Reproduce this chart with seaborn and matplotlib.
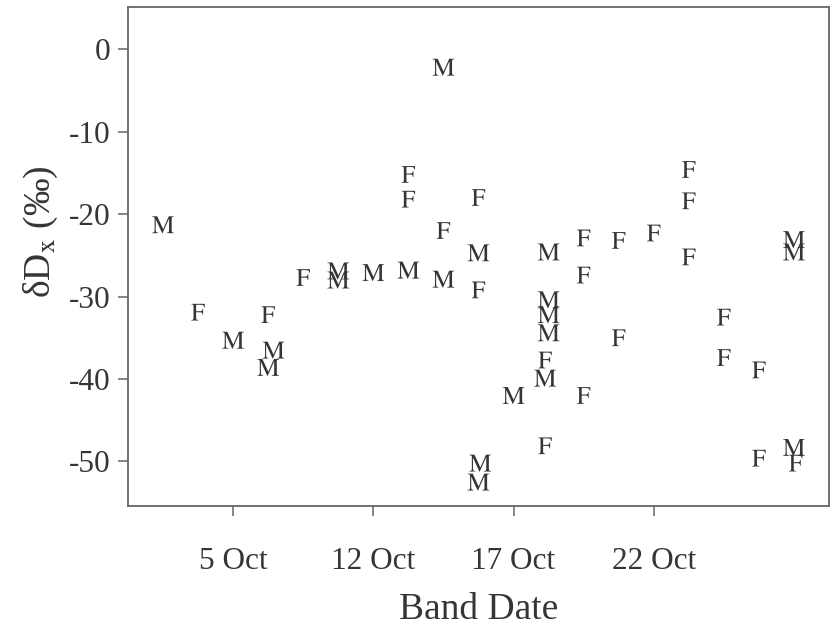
"""Band date vs deltaD_x scatter, birds labelled by sex (M / F)."""
import matplotlib
matplotlib.use("Agg")
import matplotlib.pyplot as plt
import pandas as pd
import seaborn as sns

# band day index (column of the plot) and the deltaD value read per bird
band_day = [1, 2, 3, 4, 4.15, 4, 5, 6, 6, 7,
            8, 8, 8, 9, 9, 9, 10, 10, 10, 10.05, 10,
            11, 12, 12, 12, 12, 11.9, 11.9, 11.9,
            13, 13, 13, 14, 14, 15, 16, 16, 16, 17, 17, 18, 18,
            19, 19, 19, 19.05]
delta_d = [-21.3, -31.9, -35.3, -32.2, -36.5, -38.6, -27.7, -26.9, -28.0, -27.1,
           -15.2, -18.2, -26.8, -2.2, -22.0, -27.9, -18.0, -24.7, -29.2, -50.2, -52.5,
           -42.0, -24.6, -30.4, -32.2, -34.4, -37.7, -39.9, -48.1,
           -22.9, -27.4, -42.0, -23.2, -35.0, -22.3, -14.6, -18.4, -25.2, -32.5, -37.4, -38.9, -49.6,
           -23.1, -24.6, -48.3, -50.2]
sex = ["M", "F", "M", "F", "M", "M", "F", "M", "M", "M",
       "F", "F", "M", "M", "F", "M", "F", "M", "F", "M", "M",
       "M", "M", "M", "M", "M", "F", "M", "F",
       "F", "F", "F", "F", "F", "F", "F", "F", "F", "F", "F", "F", "F",
       "M", "M", "M", "F"]

tick_pos = [3, 7, 11, 15]
tick_labels = ["5 Oct", "12 Oct", "17 Oct", "22 Oct"]
y_ticks = [0, -10, -20, -30, -40, -50]

df = pd.DataFrame({"band_day": band_day, "dD": delta_d, "sex": sex})

sns.set_style("ticks")
plt.rcParams["font.family"] = ["Liberation Serif", "DejaVu Serif"]
plt.rcParams["mathtext.fontset"] = "stix"

ink = "#353535"
frame = "#666666"

fig, ax = plt.subplots(figsize=(8.32, 6.36), dpi=100)
fig.subplots_adjust(left=0.1538, right=0.9964, top=0.989, bottom=0.2044)

sns.scatterplot(data=df, x="band_day", y="dD", style="sex", size="sex",
                markers={"M": r"$\mathrm{M}$", "F": r"$\mathrm{F}$"},
                sizes={"M": 245, "F": 145}, color=ink, linewidth=0,
                edgecolor="none", legend=False, ax=ax)

ax.set_xlim(0, 20)
ax.set_ylim(-55.4, 5.1)
ax.set_xticks(tick_pos)
ax.set_xticklabels(tick_labels)
ax.set_yticks(y_ticks)
ax.set_yticklabels([str(v) for v in y_ticks])

for side in ["left", "right", "top", "bottom"]:
    ax.spines[side].set_visible(True)
    ax.spines[side].set_color(frame)
    ax.spines[side].set_linewidth(1.3)

ax.tick_params(axis="x", length=7.5, width=1.1, color=frame, pad=22,
               labelsize=22.5, labelcolor=ink)
ax.tick_params(axis="y", length=7.5, width=1.1, color=frame, pad=5,
               labelsize=22.5, labelcolor=ink)

ax.set_xlabel("Band Date", fontsize=27, color=ink, labelpad=12)
ax.set_ylabel(r"δD$_\mathrm{x}$ (‰)", fontsize=27, color=ink)
ax.yaxis.set_label_coords(-0.097, 0.55)

fig.savefig("out.png", dpi=100, facecolor="white")
